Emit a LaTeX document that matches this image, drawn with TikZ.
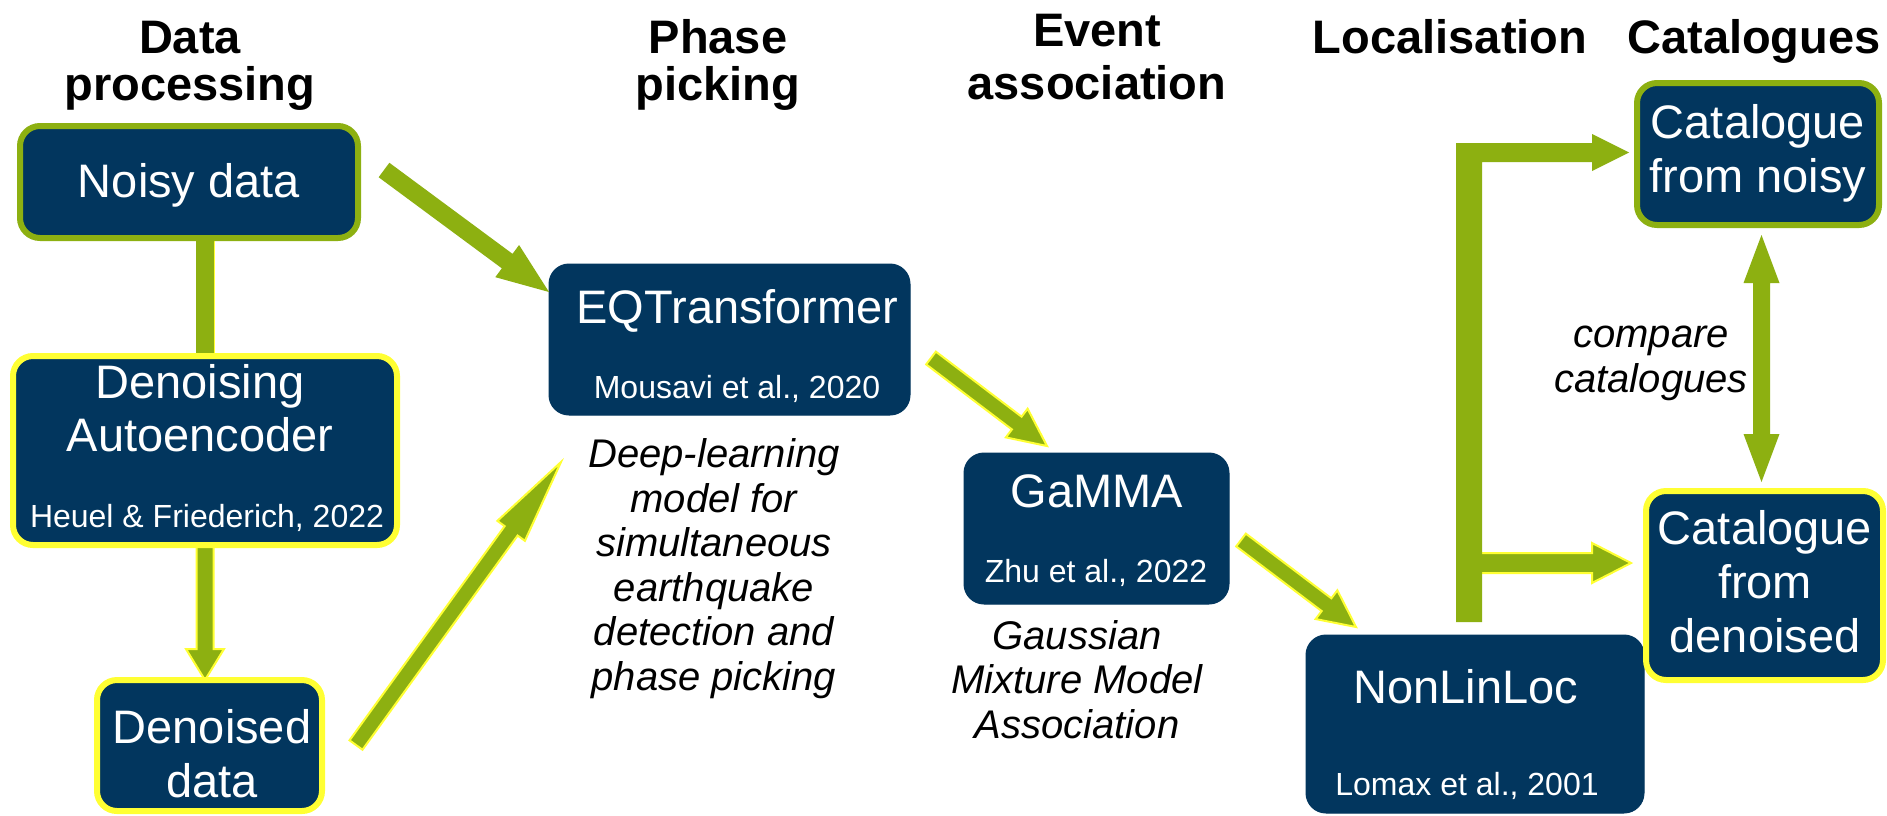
\documentclass[tikz,border=0pt]{standalone}
\usepackage{fontspec}
\setmainfont{Liberation Sans}
\usetikzlibrary{calc}
\definecolor{navy}{RGB}{2,54,94}
\definecolor{agreen}{RGB}{141,176,17}
\definecolor{ayellow}{RGB}{255,255,51}
\pgfdeclarelayer{background}
\pgfsetlayers{background,main}

% thick block arrow: [extra style]{tail}{tip}{half shaft}{half head}{head length}
\newcommand\fatarrow[6][]{%
  \coordinate (fab) at ($(#3)!#6!(#2)$);
  \filldraw[arrowbody,#1] ($(#2)!#4!90:(#3)$) -- ($(fab)!#4!90:(#3)$)
    -- ($(fab)!#5!90:(#3)$) -- (#3) -- ($(fab)!#5!-90:(#3)$)
    -- ($(fab)!#4!-90:(#3)$) -- ($(#2)!#4!-90:(#3)$) -- cycle;}

\tikzset{
  box/.style={rectangle, rounded corners=20pt, fill=navy, draw=navy,
    line width=1pt, inner sep=0pt, outer sep=0pt},
  gbox/.style={box, draw=agreen, line width=6pt},
  ybox/.style={box, draw=ayellow, line width=6pt},
  % multi-line texts are placed by the baseline of their last line
  lbl/.style={text=white, font=\fontsize{47}{54}\selectfont, align=center,
    inner sep=0pt, anchor=base},
  cite/.style={text=white, font=\fontsize{32}{36}\selectfont,
    inner sep=0pt, anchor=base},
  note/.style={font=\itshape\fontsize{40}{44.5}\selectfont, align=center,
    inner sep=0pt, anchor=base},
  head/.style={font=\bfseries\fontsize{47}{47}\selectfont, align=center,
    inner sep=0pt, anchor=base},
  arrowbody/.style={fill=agreen, draw=none},
  outlined/.style={draw=ayellow, line width=2pt, line join=miter},
}

\begin{document}
\begin{tikzpicture}[x=1pt, y=-1pt]
\useasboundingbox (0,0) rectangle (1887,815);

% column headings
\node[head] (hData) at (190,100) {Data\\processing};
\node[head] (hPhase) at (718,100) {Phase\\picking};
\node[head, font=\bfseries\fontsize{47}{53}\selectfont] (hEvent) at (1097,99) {Event\\association};
\node[head] (hLoc) at (1450,53) {Localisation};
\node[head] (hCat) at (1754,53) {Catalogues};

% boxes
\node[gbox, minimum width=338pt, minimum height=112pt] (noisy) at (189,182) {};
\node[ybox, minimum width=384pt, minimum height=189pt] (dae) at (205,450.5) {};
\node[ybox, minimum width=225pt, minimum height=131pt] (den) at (209.5,745.5) {};
\node[box, minimum width=361pt, minimum height=151pt] (eqt) at (729.5,339.5) {};
\node[box, minimum width=265pt, minimum height=151pt] (gamma) at (1096.5,528.5) {};
\node[box, minimum width=338pt, minimum height=178pt] (nll) at (1475,724) {};
\node[gbox, minimum width=242pt, minimum height=142pt] (catn) at (1758,154) {};
\node[ybox, minimum width=237pt, minimum height=189pt] (catd) at (1764.5,585.5) {};

% box texts
\node[lbl] (tNoisy) at (189,197) {Noisy data};
\node[lbl, font=\fontsize{47}{53}\selectfont] (tDae) at (200,451) {Denoising\\Autoencoder};
\node[cite] (cDae) at (207,527) {Heuel \& Friederich, 2022};
\node[lbl] (tDen) at (212,797) {Denoised\\data};
\node[lbl] (tEqt) at (737.5,323) {EQTransformer};
\node[cite] (cEqt) at (737,398) {Mousavi et al., 2020};
\node[lbl] (tGam) at (1097,507) {GaMMA};
\node[cite] (cGam) at (1096,582) {Zhu et al., 2022};
\node[lbl] (tNll) at (1466,703) {NonLinLoc};
\node[cite] (cNll) at (1467,795) {Lomax et al., 2001};
\node[lbl] (tCatn) at (1758,192) {Catalogue\\from noisy};
\node[lbl] (tCatd) at (1765,652) {Catalogue\\from\\denoised};

% descriptions
\node[note] (nEqt) at (714,690) {Deep-learning\\model for\\simultaneous\\earthquake\\detection and\\phase picking};
\node[note] (nGam) at (1077,738) {Gaussian\\Mixture Model\\Association};
\node[note] (nCmp) at (1651,392) {compare\\catalogues};

% arrow end points
\coordinate (a1s) at (384,170);   \coordinate (a1t) at (549,292);
\coordinate (a2s) at (356,745);   \coordinate (a2t) at (561,462);
\coordinate (a3s) at (931,358);   \coordinate (a3t) at (1047,446);
\coordinate (a4s) at (1241,540);  \coordinate (a4t) at (1356,627);
\coordinate (split) at (1469,622);
\coordinate (tipn) at (1629,152.5);
\coordinate (tipd) at (1631,563);
\coordinate (cmpT) at (1761.5,235);
\coordinate (cmpB) at (1761.5,482);

\begin{pgfonlayer}{background}
  \fill[white] (0,0) rectangle (1887,815);
  % noisy data -> autoencoder
  \fill[agreen] ($(noisy.south -| dae.north)+(-9.5,0)$) rectangle ($(dae.north)+(9.5,0)$);
  \draw[ayellow, line width=1.5pt] ($(noisy.south -| dae.north)+(9.5,0)$) -- ($(dae.north)+(9.5,0)$);
  % autoencoder -> denoised data
  \coordinate (a5t) at (dae.south |- den.north);
  \fatarrow[outlined]{dae.south}{a5t}{8.5pt}{19pt}{31pt}
\end{pgfonlayer}

% pipeline arrows
\fatarrow{a1s}{a1t}{9pt}{20pt}{52pt}
\fatarrow[outlined]{a2s}{a2t}{8pt}{17pt}{85pt}
\fatarrow[outlined]{a3s}{a3t}{8pt}{18pt}{38pt}
\fatarrow[outlined]{a4s}{a4t}{8pt}{18pt}{37pt}

% localisation -> catalogues
\filldraw[arrowbody, outlined] ($(tipd)+(-149,-10)$) -- ($(tipd)+(-39,-10)$) -- ++(0,-10)
  -- (tipd) -- ($(tipd)+(-39,20)$) -- ++(0,-10) -- ($(tipd)+(-149,10)$);
\fill[agreen] ($(split)+(-13,0)$) |- ($(tipn)+(-37,-9.5)$) -- ++(0,-9) -- (tipn)
  -- ($(tipn)+(-37,18.5)$) -- ++(0,-9) -| ($(split)+(13,0)$) -- cycle;

% compare catalogues
\fill[agreen] (cmpT) -- ($(cmpT)+(18,48)$) -- ($(cmpT)+(8.5,48)$) -- ($(cmpB)+(8.5,-48)$)
  -- ($(cmpB)+(18,-48)$) -- (cmpB) -- ($(cmpB)+(-18,-48)$) -- ($(cmpB)+(-8.5,-48)$)
  -- ($(cmpT)+(-8.5,48)$) -- ($(cmpT)+(-18,48)$) -- cycle;
\end{tikzpicture}
\end{document}
